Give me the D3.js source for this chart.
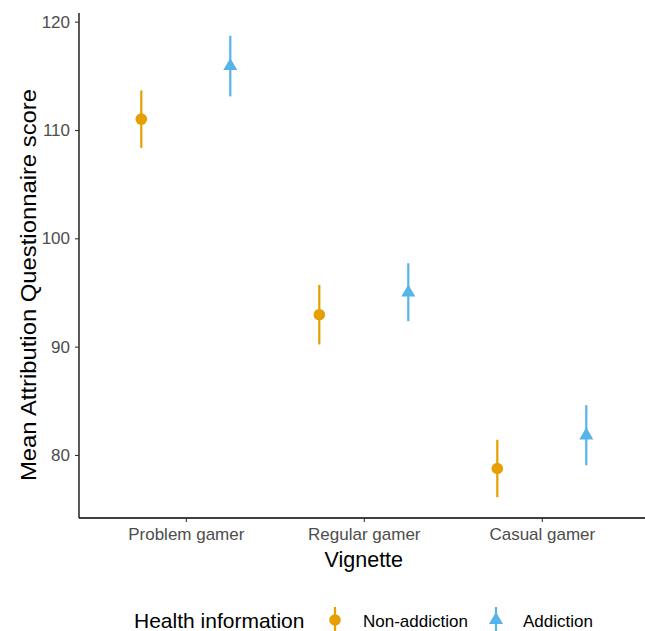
<!DOCTYPE html>
<html lang="en">
<head>
    <meta charset="UTF-8">
    <title>Attribution Questionnaire</title>
    <script src="https://cdn.jsdelivr.net/npm/d3@7"></script>
    <style>
        body { margin: 0; background: #fff; }
        text { font-family: "Liberation Sans", Arial, sans-serif; }
    </style>
</head>
<body>
    <div id="chart"></div>
    <script>
// data
const vignettes = ["Problem gamer", "Regular gamer", "Casual gamer"];
const groups = ["Non-addiction", "Addiction"];
const groupColors = ["#E69F00", "#56B4E9"];
const nonAddictionMean = [111.0, 92.95, 78.75];
const nonAddictionLow = [108.35, 90.2, 76.1];
const nonAddictionHigh = [113.65, 95.7, 81.4];
const addictionMean = [115.9, 95.0, 81.8];
const addictionLow = [113.1, 92.35, 79.05];
const addictionHigh = [118.7, 97.7, 84.6];
const yTicks = [80, 90, 100, 110, 120];

const width = 645, height = 631;
const margin = { top: 13, right: 0, bottom: 113, left: 79 };

const svg = d3.select("#chart").append("svg")
    .attr("width", width)
    .attr("height", height);

// discrete x with ggplot-like 0.6 expansion
const xScale = d3.scaleLinear()
    .domain([0.4, 3.6])
    .range([margin.left, margin.left + 178 * 3.2]);
const xPos = i => xScale(i + 1);
const dodge = 0.25;

const yScale = d3.scaleLinear()
    .domain([74.18, 120.8])
    .range([height - margin.bottom, margin.top]);

const rows = [];
vignettes.forEach((v, i) => {
    rows.push({ v: i, g: 0, mean: nonAddictionMean[i], lo: nonAddictionLow[i], hi: nonAddictionHigh[i] });
    rows.push({ v: i, g: 1, mean: addictionMean[i], lo: addictionLow[i], hi: addictionHigh[i] });
});

// axes
const yAxis = svg.append("g")
    .attr("transform", `translate(${margin.left},0)`)
    .call(d3.axisLeft(yScale).tickValues(yTicks).tickSize(4).tickPadding(5));
const xAxis = svg.append("g")
    .attr("transform", `translate(0,${height - margin.bottom})`)
    .call(d3.axisBottom(xScale).tickValues([1, 2, 3]).tickFormat(d => vignettes[d - 1]).tickSize(4).tickPadding(6));

[xAxis, yAxis].forEach(ax => {
    ax.select(".domain").attr("stroke", "#000").attr("stroke-width", 1.3);
    ax.selectAll(".tick line").attr("stroke", "#333").attr("stroke-width", 1.1);
    ax.selectAll(".tick text")
        .attr("fill", "#4D4D4D")
        .style("font-size", "17px")
        .style("font-family", "Liberation Sans, Arial, sans-serif");
});
yAxis.select(".domain").attr("d", `M0,${yScale.range()[1]}V${yScale.range()[0]}`);
xAxis.select(".domain").attr("d", `M${xScale.range()[0]},0H${width}`);

// axis titles
svg.append("text")
    .attr("x", xPos(1))
    .attr("y", 567)
    .attr("text-anchor", "middle")
    .style("font-size", "21.5px")
    .text("Vignette");

svg.append("text")
    .attr("transform", "rotate(-90)")
    .attr("x", -285)
    .attr("y", 36)
    .attr("text-anchor", "middle")
    .attr("textLength", 392)
    .attr("lengthAdjust", "spacingAndGlyphs")
    .style("font-size", "22px")
    .text("Mean Attribution Questionnaire score");

// error bars
const triangle = d3.symbol().type(d3.symbolTriangle).size(85);
const marks = svg.append("g").selectAll("g")
    .data(rows)
    .enter()
    .append("g")
    .attr("transform", d => `translate(${xScale(d.v + 1 + (d.g === 0 ? -dodge : dodge))},0)`);

marks.append("line")
    .attr("y1", d => yScale(d.lo))
    .attr("y2", d => yScale(d.hi))
    .attr("stroke", d => groupColors[d.g])
    .attr("stroke-width", 2.2);

marks.filter(d => d.g === 0).append("circle")
    .attr("cy", d => yScale(d.mean))
    .attr("r", 5.8)
    .attr("fill", groupColors[0]);

marks.filter(d => d.g === 1).append("path")
    .attr("transform", d => `translate(0,${yScale(d.mean)})`)
    .attr("d", triangle)
    .attr("fill", groupColors[1]);

// legend
const legend = svg.append("g").attr("transform", "translate(0,620)");
legend.append("text")
    .attr("x", 134)
    .attr("y", 8)
    .style("font-size", "21px")
    .text("Health information");

const keyX = [335, 496];
const labelX = [363, 523];
groups.forEach((g, i) => {
    legend.append("line")
        .attr("x1", keyX[i]).attr("x2", keyX[i])
        .attr("y1", -13).attr("y2", 13)
        .attr("stroke", groupColors[i])
        .attr("stroke-width", 2.2);
    if (i === 0) {
        legend.append("circle")
            .attr("cx", keyX[i])
            .attr("r", 5.8)
            .attr("fill", groupColors[i]);
    } else {
        legend.append("path")
            .attr("transform", `translate(${keyX[i]},0)`)
            .attr("d", triangle)
            .attr("fill", groupColors[i]);
    }
    legend.append("text")
        .attr("x", labelX[i])
        .attr("y", 7)
        .style("font-size", "17px")
        .text(g);
});
    </script>
</body>
</html>
